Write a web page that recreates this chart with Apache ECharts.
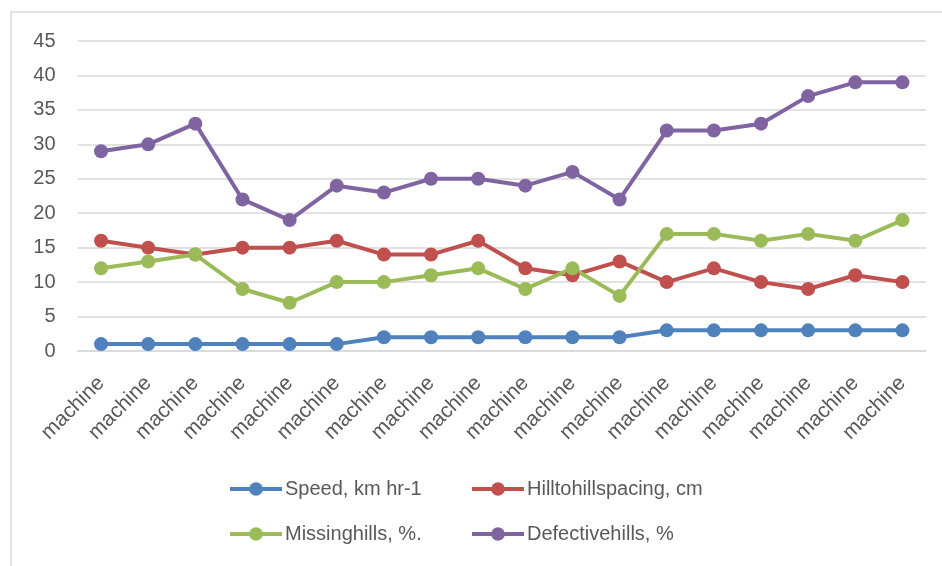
<!DOCTYPE html>
<html>
<head>
<meta charset="utf-8">
<script src="https://cdn.jsdelivr.net/npm/echarts@6/dist/echarts.min.js"></script>
<style>
  html, body { margin: 0; padding: 0; background: #ffffff; }
  #chart { width: 942px; height: 566px; }
</style>
</head>
<body>
<div id="chart"></div>
<script>
// Category labels along the x axis
const categories = ['machine', 'machine', 'machine', 'machine', 'machine', 'machine',
  'machine', 'machine', 'machine', 'machine', 'machine', 'machine',
  'machine', 'machine', 'machine', 'machine', 'machine', 'machine'];

// Series values
const speed = [1, 1, 1, 1, 1, 1, 2, 2, 2, 2, 2, 2, 3, 3, 3, 3, 3, 3];
const hillSpacing = [16, 15, 14, 15, 15, 16, 14, 14, 16, 12, 11, 13, 10, 12, 10, 9, 11, 10];
const missingHills = [12, 13, 14, 9, 7, 10, 10, 11, 12, 9, 12, 8, 17, 17, 16, 17, 16, 19];
const defectiveHills = [29, 30, 33, 22, 19, 24, 23, 25, 25, 24, 26, 22, 32, 32, 33, 37, 39, 39];

// Series names
const seriesNames = ['Speed, km hr-1', 'Hilltohillspacing, cm', 'Missinghills, %.', 'Defectivehills, %'];

const FONT = '"Liberation Sans", Arial, sans-serif';
const TEXT_COLOR = '#595959';
const colors = ['#4F81BD', '#C0504D', '#9BBB59', '#8064A2'];
const values = [speed, hillSpacing, missingHills, defectiveHills];

const chart = echarts.init(document.getElementById('chart'), null, { renderer: 'canvas' });

function legendAt(name, left, top) {
  return {
    data: [name],
    left: left,
    top: top,
    itemWidth: 52,
    itemHeight: 17,
    itemGap: 0,
    padding: 0,
    lineStyle: { width: 4 },
    textStyle: { fontFamily: FONT, fontSize: 20, color: TEXT_COLOR, padding: [0, 0, 0, -2] }
  };
}

const option = {
  backgroundColor: '#ffffff',
  animation: false,
  color: colors,
  graphic: [{
    type: 'rect',
    shape: { x: 11, y: 12, width: 1000, height: 1000 },
    style: { fill: 'none', stroke: '#d9d9d9', lineWidth: 1.5 },
    silent: true
  }],
  grid: { left: 77.5, right: 16, top: 41, bottom: 215, containLabel: false },
  legend: [
    legendAt(seriesNames[0], 228, 479),
    legendAt(seriesNames[1], 470, 479),
    legendAt(seriesNames[2], 228, 524),
    legendAt(seriesNames[3], 470, 524)
  ],
  xAxis: {
    type: 'category',
    data: categories,
    boundaryGap: true,
    axisLine: { show: true, lineStyle: { color: '#d9d9d9', width: 1.5 } },
    axisTick: { show: false },
    axisLabel: {
      interval: 0,
      rotate: 45,
      margin: 29,
      fontFamily: FONT,
      fontSize: 21,
      color: TEXT_COLOR
    }
  },
  yAxis: {
    type: 'value',
    min: 0,
    max: 45,
    interval: 5,
    axisLine: { show: false },
    axisTick: { show: false },
    splitLine: { lineStyle: { color: '#d9d9d9', width: 1.5 } },
    axisLabel: {
      margin: 22,
      fontFamily: FONT,
      fontSize: 20,
      color: TEXT_COLOR
    }
  },
  series: seriesNames.map((name, i) => ({
    name: name,
    type: 'line',
    data: values[i],
    symbol: 'circle',
    symbolSize: 14,
    showSymbol: true,
    lineStyle: { width: 4, color: colors[i] },
    itemStyle: { color: colors[i] },
    emphasis: { disabled: true }
  }))
};

chart.setOption(option);
</script>
</body>
</html>
